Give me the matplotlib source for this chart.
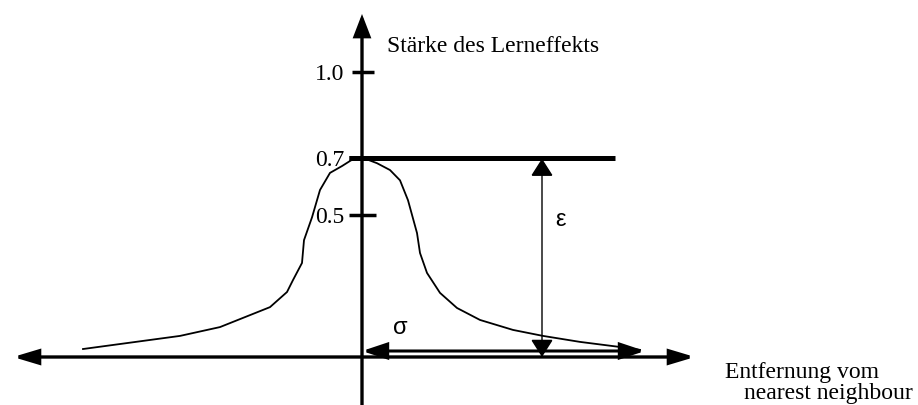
import matplotlib
matplotlib.use("Agg")
import matplotlib.pyplot as plt
from matplotlib.patches import FancyArrowPatch

# ---- data (schematic: distance from nearest neighbour vs. learning strength) ----
distance = [-279, -182, -142, -92, -75, -69, -60, -58, -50, -42, -32, -20, -11, 0,
            15, 28, 38, 46, 55, 58, 65, 78, 95, 118, 151, 181, 218, 265, 278]
strength = [0.028, 0.074, 0.105, 0.175, 0.228, 0.27, 0.33, 0.41, 0.49, 0.586, 0.646,
            0.67, 0.69, 0.70, 0.68, 0.656, 0.62, 0.55, 0.435, 0.365, 0.295, 0.225,
            0.172, 0.13, 0.095, 0.074, 0.053, 0.032, 0.025]
tick_values = [0.5, 0.7, 1.0]
tick_labels = ["0.5", "0.7", "1.0"]
peak = 0.7
sigma_width = 283
y_label = "Stärke des Lerneffekts"
x_label = ["Entfernung vom", "nearest neighbour"]

W, H = 918, 405
fig = plt.figure(figsize=(W / 100, H / 100), dpi=100)
ax = fig.add_axes([0, 0, 1, 1])
ax.axis("off")
k = 285.0
ax.set_xlim(-362, W - 362)
ax.set_ylim((357 - H) / k, 357 / k)

serif = ["Liberation Serif", "DejaVu Serif"]

def arrow(p0, p1, style, hl, hw, lw):
    a = FancyArrowPatch(p0, p1, arrowstyle=f"{style},head_length={hl},head_width={hw}",
                        mutation_scale=1, lw=lw, color="black", shrinkA=0, shrinkB=0,
                        joinstyle="miter", capstyle="butt")
    ax.add_patch(a)

# axes
arrow((0, (357 - H) / k), (0, 343 / k), "-|>", 13, 5, 2.4)
arrow((-349, 0), (333, 0), "<|-|>", 15, 4.5, 2.4)

# ticks
for v, lab in zip(tick_values, tick_labels):
    lw = 3.6 if v == peak else 2.5
    ax.plot([-13 if v != 1.0 else -10, 14 if v != 1.0 else 12], [v, v], color="black", lw=lw,
            solid_capstyle="butt")
    ax.annotate(lab, (-18, v), xytext=(0, -2), textcoords="offset points",
                ha="right", va="center", fontsize=17, family=serif)

# peak line
ax.plot([-13, 253], [peak, peak], color="black", lw=3.6, solid_capstyle="butt")

# curve
ax.plot(distance, strength, color="black", lw=1.3)

# epsilon arrow
arrow((180, peak - 0.004), (180, 0.0), "<|-|>", 11, 7, 1.0)
# sigma arrow
arrow((0, 6 / k), (sigma_width, 6 / k), "<|-|>", 15, 5, 2.2)

ax.text(199, 0.48, "ε", fontsize=17, family=["Liberation Sans", "DejaVu Sans"],
        ha="center", va="center")
ax.text(38, 0.10, "σ", fontsize=17, family=["Liberation Sans", "DejaVu Sans"],
        ha="center", va="center")

ax.text(387 / W, 1 - 52 / H, y_label, transform=fig.transFigure, fontsize=17,
        family=serif, ha="left", va="baseline")
ax.text(725 / W, 1 - 378 / H, x_label[0], transform=fig.transFigure, fontsize=17,
        family=serif, ha="left", va="baseline")
ax.text(744 / W, 1 - 399 / H, x_label[1], transform=fig.transFigure, fontsize=17,
        family=serif, ha="left", va="baseline")

fig.savefig("out.png", dpi=100, facecolor="white")
